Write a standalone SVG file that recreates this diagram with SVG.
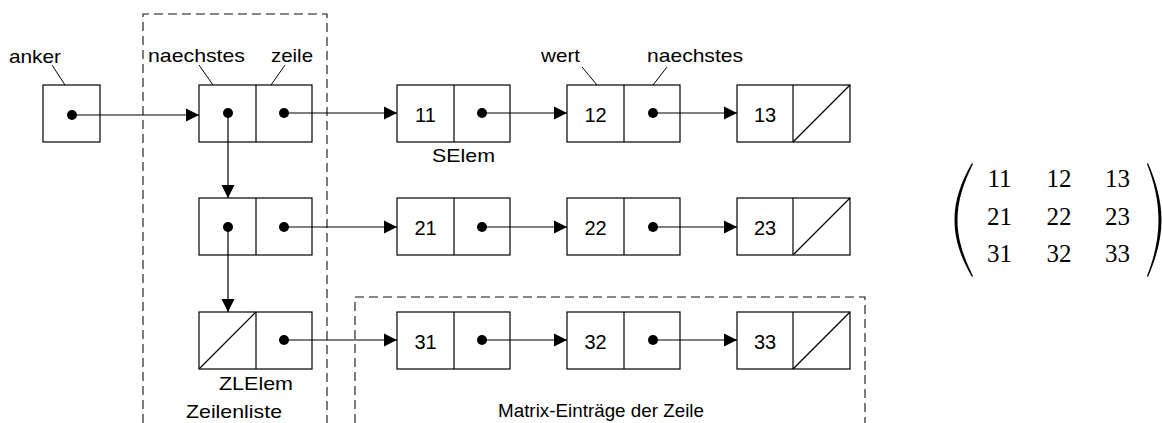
<svg xmlns="http://www.w3.org/2000/svg" width="1162" height="423" viewBox="0 0 1162 423">
  <style>
    .box { fill: #fff; stroke: #000; stroke-width: 1.2; }
    .div { stroke: #000; stroke-width: 1.2; fill: none; }
    .dot { fill: #000; }
    .lbl { font-family: "Liberation Sans", Arial, sans-serif; font-size: 19px; fill: #000; }
    .num { font-family: "Liberation Sans", Arial, sans-serif; font-size: 20px; fill: #000; text-anchor: middle; }
    .mat { font-family: "Liberation Serif", "Times New Roman", serif; font-size: 25px; fill: #000; text-anchor: middle; }
    .lead { stroke: #000; stroke-width: 1; fill: none; }
    .dash { stroke: #111; stroke-width: 1.1; fill: none; stroke-dasharray: 9 5; }
    .con { stroke: #000; stroke-width: 1.2; fill: none; marker-end: url(#ah); }
  </style>
  <defs>
    <marker id="ah" markerWidth="14" markerHeight="14" refX="13" refY="7" orient="auto" markerUnits="userSpaceOnUse">
      <path d="M0,0.5 L13,7 L0,13.5 Z" fill="#000"/>
    </marker>
  </defs>

  <rect width="1162" height="423" fill="#fff"/>

  <!-- dashed frames -->
  <g id="frames">
    <path class="dash" d="M143,423 V14 H327 V423"/>
    <path class="dash" d="M355,423 V297 H865 V423"/>
  </g>

  <!-- anchor pointer -->
  <g id="anker">
    <rect class="box" x="43" y="85" width="57" height="57"/>
    <circle class="dot" cx="72" cy="115" r="5"/>
  </g>

  <!-- row list elements (ZLElem) -->
  <g id="zl1">
    <rect class="box" x="199" y="85" width="113" height="57"/>
    <line class="div" x1="256" y1="85" x2="256" y2="142"/>
    <circle class="dot" cx="228" cy="113" r="5"/>
    <circle class="dot" cx="284" cy="113" r="5"/>
  </g>
  <g id="zl2">
    <rect class="box" x="199" y="198" width="113" height="57"/>
    <line class="div" x1="256" y1="198" x2="256" y2="255"/>
    <circle class="dot" cx="228" cy="227" r="5"/>
    <circle class="dot" cx="284" cy="227" r="5"/>
  </g>
  <g id="zl3">
    <rect class="box" x="199" y="312" width="113" height="57"/>
    <line class="div" x1="256" y1="312" x2="256" y2="369"/>
    <line class="div" x1="199" y1="369" x2="256" y2="312"/>
    <circle class="dot" cx="284" cy="340" r="5"/>
  </g>

  <!-- sparse entries (SElem), row 1 -->
  <g id="s11">
    <rect class="box" x="397" y="85" width="113" height="57"/>
    <line class="div" x1="454" y1="85" x2="454" y2="142"/>
    <text class="num" x="425.5" y="122">11</text>
    <circle class="dot" cx="482" cy="113" r="5"/>
  </g>
  <g id="s12">
    <rect class="box" x="567" y="85" width="113" height="57"/>
    <line class="div" x1="624" y1="85" x2="624" y2="142"/>
    <text class="num" x="595.5" y="122">12</text>
    <circle class="dot" cx="653" cy="113" r="5"/>
  </g>
  <g id="s13">
    <rect class="box" x="737" y="85" width="113" height="57"/>
    <line class="div" x1="793" y1="85" x2="793" y2="142"/>
    <line class="div" x1="793" y1="142" x2="850" y2="85"/>
    <text class="num" x="765" y="122">13</text>
  </g>

  <!-- row 2 -->
  <g id="s21">
    <rect class="box" x="397" y="198" width="113" height="57"/>
    <line class="div" x1="454" y1="198" x2="454" y2="255"/>
    <text class="num" x="425.5" y="235">21</text>
    <circle class="dot" cx="482" cy="227" r="5"/>
  </g>
  <g id="s22">
    <rect class="box" x="567" y="198" width="113" height="57"/>
    <line class="div" x1="624" y1="198" x2="624" y2="255"/>
    <text class="num" x="595.5" y="235">22</text>
    <circle class="dot" cx="653" cy="227" r="5"/>
  </g>
  <g id="s23">
    <rect class="box" x="737" y="198" width="113" height="57"/>
    <line class="div" x1="793" y1="198" x2="793" y2="255"/>
    <line class="div" x1="793" y1="255" x2="850" y2="198"/>
    <text class="num" x="765" y="235">23</text>
  </g>

  <!-- row 3 -->
  <g id="s31">
    <rect class="box" x="397" y="312" width="113" height="57"/>
    <line class="div" x1="454" y1="312" x2="454" y2="369"/>
    <text class="num" x="425.5" y="349">31</text>
    <circle class="dot" cx="482" cy="340" r="5"/>
  </g>
  <g id="s32">
    <rect class="box" x="567" y="312" width="113" height="57"/>
    <line class="div" x1="624" y1="312" x2="624" y2="369"/>
    <text class="num" x="595.5" y="349">32</text>
    <circle class="dot" cx="653" cy="340" r="5"/>
  </g>
  <g id="s33">
    <rect class="box" x="737" y="312" width="113" height="57"/>
    <line class="div" x1="793" y1="312" x2="793" y2="369"/>
    <line class="div" x1="793" y1="369" x2="850" y2="312"/>
    <text class="num" x="765" y="349">33</text>
  </g>

  <!-- pointers -->
  <g id="connectors">
    <line class="con" x1="72" y1="115" x2="199" y2="115"/>
    <line class="con" x1="284" y1="113" x2="397" y2="113"/>
    <line class="con" x1="482" y1="113" x2="567" y2="113"/>
    <line class="con" x1="653" y1="113" x2="737" y2="113"/>
    <line class="con" x1="284" y1="227" x2="397" y2="227"/>
    <line class="con" x1="482" y1="227" x2="567" y2="227"/>
    <line class="con" x1="653" y1="227" x2="737" y2="227"/>
    <line class="con" x1="284" y1="340" x2="397" y2="340"/>
    <line class="con" x1="482" y1="340" x2="567" y2="340"/>
    <line class="con" x1="653" y1="340" x2="737" y2="340"/>
    <line class="con" x1="228" y1="113" x2="228" y2="198"/>
    <line class="con" x1="228" y1="227" x2="228" y2="312"/>
  </g>

  <!-- field names and captions -->
  <g id="labels">
    <text class="lbl" x="9" y="63" textLength="52" lengthAdjust="spacingAndGlyphs">anker</text>
    <line class="lead" x1="52" y1="65" x2="65" y2="85"/>
    <text class="lbl" x="148" y="62" textLength="97" lengthAdjust="spacingAndGlyphs">naechstes</text>
    <line class="lead" x1="199" y1="65" x2="213" y2="85"/>
    <text class="lbl" x="271" y="62" textLength="42" lengthAdjust="spacingAndGlyphs">zeile</text>
    <line class="lead" x1="285" y1="65" x2="271" y2="85"/>
    <text class="lbl" x="541" y="62" textLength="39" lengthAdjust="spacingAndGlyphs">wert</text>
    <line class="lead" x1="582" y1="67" x2="597" y2="85"/>
    <text class="lbl" x="647" y="62" textLength="96" lengthAdjust="spacingAndGlyphs">naechstes</text>
    <line class="lead" x1="667" y1="67" x2="653" y2="85"/>
    <text class="lbl" x="432" y="162" textLength="63" lengthAdjust="spacingAndGlyphs">SElem</text>
    <text class="lbl" x="219" y="390" textLength="74" lengthAdjust="spacingAndGlyphs">ZLElem</text>
    <text class="lbl" x="186" y="418" textLength="96" lengthAdjust="spacingAndGlyphs">Zeilenliste</text>
    <text class="lbl" x="498" y="417" textLength="206" lengthAdjust="spacingAndGlyphs">Matrix-Einträge der Zeile</text>
  </g>

  <!-- the matrix itself -->
  <g id="matrix">
    <path fill="#000" d="M972,163 C961,182 954.5,200 954.5,220 C954.5,240 961,258 972,277 L973,276 C964,258 957.5,240 957.5,220 C957.5,200 964,182 973,164 Z"/>
    <path fill="#000" d="M1148,163 C1156,182 1161.5,200 1161.5,220 C1161.5,240 1156,258 1148,277 L1147,276 C1154,258 1158.5,240 1158.5,220 C1158.5,200 1154,182 1147,164 Z"/>
    <text class="mat" x="999.5" y="187">11</text>
    <text class="mat" x="1059" y="187">12</text>
    <text class="mat" x="1117.5" y="187">13</text>
    <text class="mat" x="999.5" y="225">21</text>
    <text class="mat" x="1059" y="225">22</text>
    <text class="mat" x="1117.5" y="225">23</text>
    <text class="mat" x="999.5" y="262">31</text>
    <text class="mat" x="1059" y="262">32</text>
    <text class="mat" x="1117.5" y="262">33</text>
  </g>
</svg>
